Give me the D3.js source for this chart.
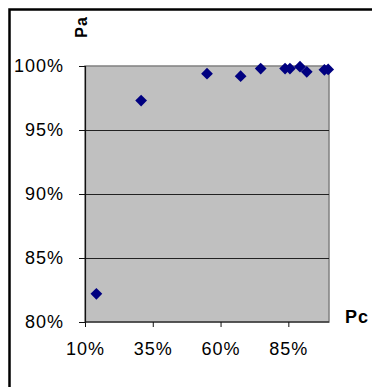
<!DOCTYPE html>
<html>
<head>
<meta charset="utf-8">
<script src="https://cdn.jsdelivr.net/npm/d3@7"></script>
<style>
  html, body { margin: 0; padding: 0; background: #fff; }
  svg { display: block; }
  text { font-family: "Liberation Sans", Arial, sans-serif; }
</style>
</head>
<body>
<svg id="chart" width="372" height="387"></svg>
<script>
// Data (Pc on x, Pa on y)
const pcValues = [0.142, 0.307, 0.550, 0.674, 0.748, 0.838, 0.856, 0.893, 0.918, 0.983, 0.997];
const paValues = [0.822, 0.973, 0.994, 0.992, 0.998, 0.998, 0.998, 0.9995, 0.9955, 0.997, 0.9973];
const xTickValues = [0.10, 0.35, 0.60, 0.85];
const yTickValues = [0.80, 0.85, 0.90, 0.95, 1.00];
const xLabel = "Pc";
const yLabel = "Pa";

const svg = d3.select("#chart");
const plot = { left: 85, top: 66, right: 329, bottom: 322 };

// outer frame (cropped at right/bottom in the reference)
svg.append("rect")
  .attr("x", 9.5).attr("y", 9.5).attr("width", 420).attr("height", 420)
  .attr("fill", "none").attr("stroke", "#000").attr("stroke-width", 2.5);

const x = d3.scaleLinear().domain([0.10, 1.00]).range([plot.left, plot.right]);
const y = d3.scaleLinear().domain([0.80, 1.00]).range([plot.bottom, plot.top]);

// plot background
svg.append("rect")
  .attr("x", plot.left).attr("y", plot.top)
  .attr("width", plot.right - plot.left).attr("height", plot.bottom - plot.top)
  .attr("fill", "#c0c0c0").attr("stroke", "#808080").attr("stroke-width", 1.5);

// gridlines
svg.append("g")
  .selectAll("line")
  .data(yTickValues.filter(v => v > 0.8 && v < 1.0))
  .join("line")
  .attr("x1", plot.left).attr("x2", plot.right)
  .attr("y1", d => Math.round(y(d)) + 0.5).attr("y2", d => Math.round(y(d)) + 0.5)
  .attr("stroke", "#222").attr("stroke-width", 1.2);

// Y axis
const yAxis = svg.append("g")
  .attr("transform", `translate(${plot.left},0)`)
  .call(d3.axisLeft(y).tickValues(yTickValues).tickFormat(d3.format(".0%")).tickSize(6).tickPadding(15));
yAxis.select(".domain").attr("stroke", "#111").attr("stroke-width", 1.2);
yAxis.selectAll(".tick line").attr("stroke", "#111");
yAxis.selectAll("text")
  .attr("font-size", 18).attr("fill", "#000").attr("dy", "0.3em")
  .style("letter-spacing", "1px")
  .attr("font-family", "Liberation Sans, Arial, sans-serif");

// X axis
const xAxis = svg.append("g")
  .attr("transform", `translate(0,${plot.bottom})`)
  .call(d3.axisBottom(x).tickValues(xTickValues).tickFormat(d3.format(".0%")).tickSize(5).tickPadding(15));
xAxis.select(".domain").attr("stroke", "#111").attr("stroke-width", 1.2)
  .attr("d", `M${plot.left},0H${plot.right}`);
xAxis.selectAll(".tick line").attr("stroke", "#111");
xAxis.selectAll("text")
  .attr("font-size", 18).attr("fill", "#000")
  .style("letter-spacing", "1px")
  .attr("font-family", "Liberation Sans, Arial, sans-serif");

// axis titles
svg.append("text")
  .attr("transform", "translate(87,27) rotate(-90)")
  .attr("text-anchor", "middle")
  .attr("font-size", 16).attr("font-weight", "bold")
  .style("letter-spacing", "1px")
  .text(yLabel);

svg.append("text")
  .attr("x", 345).attr("y", 323)
  .attr("font-size", 18).attr("font-weight", "bold")
  .style("letter-spacing", "1px")
  .text(xLabel);

// points
const data = pcValues.map((v, i) => ({ pc: v, pa: paValues[i] }));
svg.append("g")
  .selectAll("path")
  .data(data)
  .join("path")
  .attr("transform", d => `translate(${x(d.pc)},${y(d.pa)})`)
  .attr("d", d3.symbol().type(d3.symbolDiamond2).size(88))
  .attr("fill", "#000080");
</script>
</body>
</html>
